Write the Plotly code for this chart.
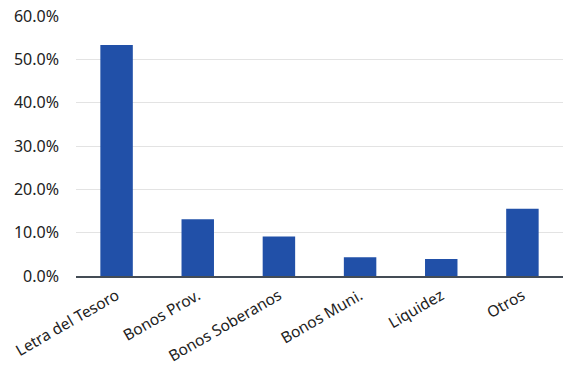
import plotly.graph_objects as go

categories = ["Letra del Tesoro", "Bonos Prov.", "Bonos Soberanos", "Bonos Muni.", "Liquidez", "Otros"]
values = [53.3, 13.1, 9.1, 4.3, 3.9, 15.5]
y_ticks = [0, 10, 20, 30, 40, 50, 60]
y_tick_labels = ["0.0%", "10.0%", "20.0%", "30.0%", "40.0%", "50.0%", "60.0%"]

fig = go.Figure(go.Bar(x=categories, y=values, marker=dict(color="#2150a8", line=dict(width=0))))

fig.update_layout(
    width=563, height=368,
    margin=dict(l=76, r=0, t=16, b=92, autoexpand=False),
    paper_bgcolor="white", plot_bgcolor="white",
    font=dict(family="Noto Sans", size=16, color="#222222"),
    bargap=0.6,
    showlegend=False,
)
fig.update_xaxes(tickangle=-30, showgrid=False, showline=True, linecolor="#444c55", linewidth=1.5,
                 tickfont=dict(size=15.5), ticklabelstandoff=3, automargin=False)
fig.update_yaxes(range=[0, 60], tickvals=y_ticks, ticktext=y_tick_labels, showgrid=True,
                 gridcolor="#e3e3e3", gridwidth=1, zeroline=False, showline=False,
                 ticklabelstandoff=16, automargin=False)

fig.write_html("out.html", config={"displayModeBar": False},
               post_script="document.body.style.margin='0';")
